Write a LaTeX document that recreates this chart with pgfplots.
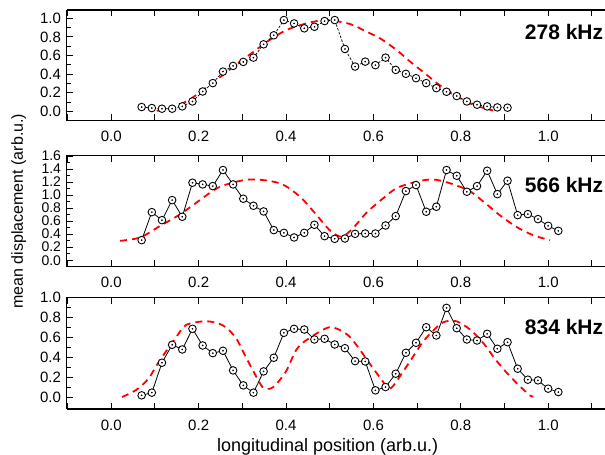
\documentclass[border=0pt]{standalone}
\usepackage{fontspec}
\setmainfont{Liberation Sans}
\usepackage{pgfplots}
\usepackage{pgfplotstable}
\pgfplotsset{compat=1.18}

% measured points, 278 kHz
\pgfplotstableread{
x y
0.0695 0.047
0.0928 0.036
0.1160 0.029
0.1393 0.029
0.1625 0.054
0.1858 0.107
0.2091 0.214
0.2323 0.304
0.2556 0.428
0.2788 0.489
0.3021 0.532
0.3254 0.578
0.3486 0.721
0.3719 0.818
0.3951 0.982
0.4184 0.946
0.4417 0.893
0.4649 0.910
0.4882 0.971
0.5114 0.982
0.5347 0.671
0.5580 0.482
0.5812 0.535
0.6045 0.497
0.6277 0.578
0.6510 0.446
0.6743 0.404
0.6975 0.357
0.7208 0.304
0.7440 0.250
0.7673 0.211
0.7906 0.165
0.8138 0.107
0.8371 0.072
0.8603 0.054
0.8836 0.043
0.9069 0.040
}\dataA

% measured points, 566 kHz
\pgfplotstableread{
x y
0.0695 0.308
0.0928 0.738
0.1160 0.615
0.1393 0.923
0.1625 0.667
0.1858 1.190
0.2091 1.164
0.2323 1.138
0.2556 1.385
0.2788 1.164
0.3021 0.944
0.3254 0.836
0.3486 0.749
0.3719 0.462
0.3951 0.420
0.4184 0.349
0.4417 0.420
0.4649 0.544
0.4882 0.369
0.5114 0.328
0.5347 0.333
0.5580 0.405
0.5812 0.410
0.6045 0.410
0.6277 0.533
0.6510 0.677
0.6743 1.062
0.6975 1.154
0.7208 0.744
0.7440 0.821
0.7673 1.385
0.7906 1.297
0.8138 1.051
0.8371 1.138
0.8603 1.374
0.8836 1.015
0.9069 1.221
0.9301 0.692
0.9534 0.708
0.9766 0.631
0.9999 0.528
1.0232 0.451
}\dataB

% measured points, 834 kHz
\pgfplotstableread{
x y
0.0695 0.017
0.0928 0.044
0.1160 0.344
0.1393 0.524
0.1625 0.477
0.1858 0.684
0.2091 0.517
0.2323 0.440
0.2556 0.464
0.2788 0.267
0.3021 0.117
0.3254 0.044
0.3486 0.257
0.3719 0.394
0.3951 0.644
0.4184 0.684
0.4417 0.677
0.4649 0.577
0.4882 0.584
0.5114 0.527
0.5347 0.490
0.5580 0.360
0.5812 0.357
0.6045 0.067
0.6277 0.100
0.6510 0.234
0.6743 0.444
0.6975 0.544
0.7208 0.700
0.7440 0.617
0.7673 0.894
0.7906 0.690
0.8138 0.577
0.8371 0.567
0.8603 0.634
0.8836 0.484
0.9069 0.550
0.9301 0.284
0.9534 0.174
0.9766 0.167
0.9999 0.084
1.0232 0.050
}\dataC

% red model curves
\pgfplotstableread{
x y
0.104 0.007
0.138 0.036
0.180 0.130
0.218 0.261
0.256 0.393
0.290 0.520
0.321 0.625
0.360 0.760
0.401 0.875
0.450 0.950
0.493 0.982
0.546 0.940
0.584 0.857
0.615 0.786
0.653 0.660
0.684 0.535
0.722 0.393
0.745 0.304
0.768 0.232
0.798 0.143
0.828 0.072
0.867 0.018
0.874 0.010
}\fitA

\pgfplotstableread{
x y
0.020 0.297
0.066 0.349
0.111 0.523
0.157 0.703
0.203 0.923
0.249 1.128
0.317 1.240
0.386 1.180
0.432 0.974
0.470 0.692
0.500 0.460
0.527 0.360
0.553 0.490
0.584 0.728
0.622 0.949
0.660 1.128
0.736 1.240
0.813 1.087
0.852 0.897
0.889 0.692
0.927 0.513
0.965 0.385
1.004 0.308
}\fitB

\pgfplotstableread{
x y
0.0245 0.000
0.0565 0.070
0.085 0.184
0.108 0.347
0.150 0.610
0.172 0.724
0.218 0.760
0.256 0.717
0.285 0.594
0.306 0.417
0.327 0.244
0.346 0.100
0.358 0.084
0.371 0.100
0.399 0.250
0.424 0.477
0.451 0.584
0.500 0.700
0.539 0.630
0.563 0.510
0.590 0.344
0.617 0.184
0.638 0.084
0.667 0.250
0.690 0.400
0.710 0.534
0.733 0.650
0.760 0.750
0.790 0.760
0.821 0.677
0.851 0.544
0.878 0.384
0.905 0.244
0.929 0.134
0.958 0.017
0.966 0.007
}\fitC

\pgfplotsset{
  panel/.style={
    scale only axis, width=538.5pt,
    xmin=-0.1025, xmax=1.13,
    axis x line*=box, axis y line*=left,
    xtick pos=both, xticklabel pos=lower,
    axis line style={line width=1.2pt},
    tick align=inside,
    xtick={-0.1,0,0.1,0.2,0.3,0.4,0.5,0.6,0.7,0.8,0.9,1.0,1.1},
    xticklabels={,0.0,,0.2,,0.4,,0.6,,0.8,,1.0,},
    minor y tick num=1,
    major tick length=6.5pt, minor tick length=4pt,
    every tick/.style={line width=1pt, black},
    tick label style={font=\fontsize{15pt}{18pt}\selectfont},
    /pgf/number format/assume math mode=true,
    /pgf/number format/fixed,
    /pgf/number format/fixed zerofill,
    /pgf/number format/precision=1,
    xticklabel style={yshift=-7pt},
    yticklabel style={xshift=-2pt, inner ysep=0.5pt},
    clip=false,
  },
  pts/.style={black, line width=0.8pt, mark=*, mark size=3.8pt,
    mark options={solid, fill=white, draw=black, line width=0.9pt}},
  dots/.style={only marks, mark=*, mark size=0.6pt, black},
  fitline/.style={red, line width=1.8pt, dash pattern=on 7pt off 5pt, smooth, no marks},
}
\tikzset{tag/.style={anchor=east, inner sep=0pt, font=\bfseries\fontsize{21pt}{25pt}\selectfont}}

\begin{document}
\begin{tikzpicture}
\useasboundingbox (0,0) rectangle (605pt,-455pt);

\begin{axis}[panel, at={(66.5pt,-10pt)}, anchor=north west, height=110.7pt,
  ymin=-0.1, ymax=1.09, ytick={0,0.2,...,1.0}]
\addplot[fitline] table {\fitA};
\addplot[pts, dash pattern=on 2.5pt off 1.5pt, line width=0.7pt] table {\dataA};
\addplot[dots] table {\dataA};
\node[tag] at (rel axis cs:0.997,0.797) {278 kHz};
\end{axis}

\begin{axis}[panel, at={(66.5pt,-155.7pt)}, anchor=north west, height=111pt,
  ymin=-0.1, ymax=1.605, ytick={0,0.2,0.4,0.6,0.8,1.0,1.2,1.4,1.6},
  yticklabel style={inner ysep=0pt, font=\fontsize{14pt}{14pt}\selectfont}]
\addplot[fitline] table {\fitB};
\addplot[pts] table {\dataB};
\addplot[dots] table {\dataB};
\node[tag] at (rel axis cs:0.997,0.736) {566 kHz};
\node[rotate=90, anchor=center, font=\fontsize{16pt}{19pt}\selectfont]
  at (rel axis cs:-0.0885,0.5) {mean displacement (arb.u.)};
\end{axis}

\begin{axis}[panel, at={(66.5pt,-297.3pt)}, anchor=north west, height=111.7pt,
  ymin=-0.12, ymax=1.0, ytick={0,0.2,...,1.0}]
\addplot[fitline] table {\fitC};
\addplot[pts] table {\dataC};
\addplot[dots] table {\dataC};
\node[tag] at (rel axis cs:0.997,0.737) {834 kHz};
\node[anchor=base, font=\fontsize{18pt}{21pt}\selectfont]
  at (rel axis cs:0.485,-0.382) {longitudinal position (arb.u.)};
\end{axis}
\end{tikzpicture}
\end{document}
